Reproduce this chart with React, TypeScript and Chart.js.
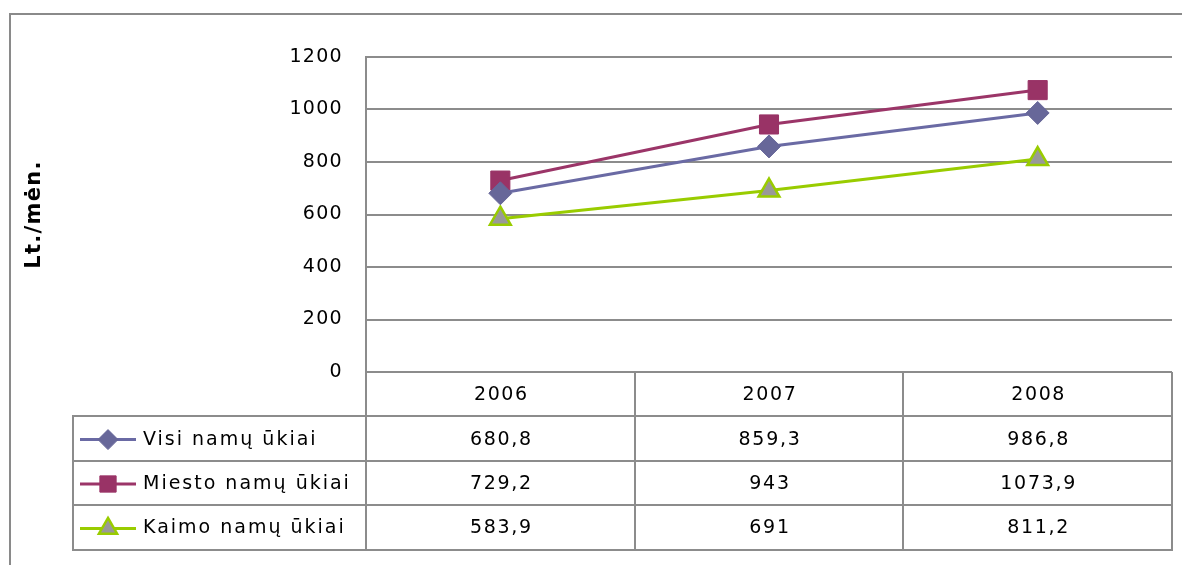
import React, { useEffect, useRef } from 'react';
import { Chart, registerables } from 'chart.js';
import { drawPoint } from 'chart.js/helpers';

Chart.register(...registerables);

// ---- data ----
const years = ['2006', '2007', '2008'];
const seriesNames = ['Visi namų ūkiai', 'Miesto namų ūkiai', 'Kaimo namų ūkiai'];
const visi = [680.8, 859.3, 986.8];
const miesto = [729.2, 943, 1073.9];
const kaimo = [583.9, 691, 811.2];
const yTicks = [0, 200, 400, 600, 800, 1000, 1200];
const yTitle = 'Lt./mėn.';

const seriesValues = [visi, miesto, kaimo];

// ---- styles ----
const styles = [
  { line: '#6A6AA4', fill: '#676799', border: '#676799', shape: 'rectRot', r: 11.5, bw: 1, lr: 10 },
  { line: '#9B3568', fill: '#993366', border: '#993366', shape: 'rect', r: 13.5, bw: 1, lr: 11.5 },
  { line: '#99CC00', fill: '#999999', border: '#99CC00', shape: 'triangle', r: 12, bw: 2.5, lr: 10.5 },
];

const FONT = '"DejaVu Sans", sans-serif';
const gridColor = '#8c8c8c';
const rowH = 44.4;
const legendLeft = 73;

const fmt = (v: number) => String(v).replace('.', ',');

const tablePlugin = {
  id: 'dataTable',
  beforeDraw(chart: any) {
    (chart.ctx as any).letterSpacing = '1.3px';
  },
  afterDraw(chart: any) {
    const ctx = chart.ctx as CanvasRenderingContext2D & { letterSpacing?: string };
    const xs = chart.scales.x;
    const area = chart.chartArea;
    const n = years.length;
    const colW = (xs.right - xs.left) / n;
    const top = area.bottom;
    const bottom = Math.round(top + 4 * rowH);

    ctx.save();
    // outer frame
    ctx.strokeStyle = '#8a8a8a';
    ctx.lineWidth = 2;
    ctx.beginPath();
    ctx.moveTo(10, chart.height);
    ctx.lineTo(10, 14);
    ctx.lineTo(chart.width, 14);
    ctx.stroke();

    // table grid
    ctx.strokeStyle = gridColor;
    ctx.lineWidth = 2;
    ctx.beginPath();
    for (let r = 1; r <= 4; r++) {
      const y = Math.round(top + r * rowH);
      ctx.moveTo(legendLeft - 1, y);
      ctx.lineTo(xs.right + 1, y);
    }
    ctx.moveTo(legendLeft, Math.round(top + rowH));
    ctx.lineTo(legendLeft, bottom);
    ctx.moveTo(Math.round(xs.left), top);
    ctx.lineTo(Math.round(xs.left), bottom);
    for (let c = 1; c <= n; c++) {
      const x = Math.round(xs.left + c * colW);
      ctx.moveTo(x, top);
      ctx.lineTo(x, bottom);
    }
    ctx.stroke();

    // header years
    ctx.fillStyle = '#000';
    ctx.font = `19px ${FONT}`;
    ctx.textBaseline = 'middle';
    ctx.textAlign = 'center';
    ctx.letterSpacing = '1.6px';
    years.forEach((yr, c) => {
      ctx.fillText(yr, xs.getPixelForValue(c) + 1, top + 0.5 * rowH + 1);
    });

    // rows
    seriesValues.forEach((vals, i) => {
      const cy = top + (i + 1.5) * rowH + 1;
      const st = styles[i];
      // legend line
      ctx.strokeStyle = st.line;
      ctx.lineWidth = 3;
      ctx.beginPath();
      ctx.moveTo(80, cy);
      ctx.lineTo(136, cy);
      ctx.stroke();
      // legend marker
      ctx.fillStyle = st.fill;
      ctx.strokeStyle = st.border;
      ctx.lineWidth = st.bw;
      drawPoint(ctx, { pointStyle: st.shape as any, radius: st.lr, rotation: 0, borderWidth: st.bw }, 108, cy);
      // legend text
      ctx.fillStyle = '#000';
      ctx.textAlign = 'left';
      ctx.letterSpacing = '2px';
      ctx.fillText(seriesNames[i], 143, cy);
      // values
      ctx.textAlign = 'center';
      ctx.letterSpacing = '1.7px';
      vals.forEach((v, c) => {
        ctx.fillText(fmt(v), xs.getPixelForValue(c) + 1, cy);
      });
    });
    ctx.restore();
  },
};

export default function App() {
  const ref = useRef<HTMLCanvasElement>(null);
  useEffect(() => {
    const chart = new Chart(ref.current!, {
      type: 'line',
      data: {
        labels: years,
        datasets: seriesValues.map((vals, i) => ({
          label: seriesNames[i],
          data: vals,
          borderColor: styles[i].line,
          backgroundColor: styles[i].fill,
          pointBackgroundColor: styles[i].fill,
          pointBorderColor: styles[i].border,
          pointBorderWidth: styles[i].bw,
          pointStyle: styles[i].shape as any,
          pointRadius: styles[i].r,
          borderWidth: 3,
          tension: 0,
          fill: false,
          clip: false as any,
        })),
      },
      options: {
        responsive: false,
        animation: false,
        devicePixelRatio: 1,
        events: [],
        layout: { autoPadding: false, padding: { top: 57, bottom: 193, left: 10, right: 10 } },
        plugins: { legend: { display: false }, tooltip: { enabled: false } },
        scales: {
          x: { display: false, offset: true },
          y: {
            min: 0,
            max: 1200,
            afterBuildTicks: (s: any) => {
              s.ticks = yTicks.map((v) => ({ value: v }));
            },
            ticks: {
              padding: 23,
              color: '#000',
              font: { family: FONT, size: 19 },
              callback: (v: any) => String(v),
            },
            grid: { color: gridColor, lineWidth: 2, drawTicks: false },
            border: { display: true, color: gridColor, width: 2 },
            title: {
              display: true,
              text: yTitle,
              color: '#000',
              font: { family: FONT, size: 21, weight: 'bold' },
              padding: { top: 12, bottom: 0 },
            },
            afterFit: (s: any) => {
              s.width = 356;
            },
          },
        },
      },
      plugins: [tablePlugin],
    });
    return () => chart.destroy();
  }, []);
  return (
    <div style={{ position: 'absolute', left: 0, top: 0, width: 1182, height: 565, background: '#fff' }}>
      <canvas ref={ref} width={1182} height={565} style={{ display: 'block' }} />
    </div>
  );
}
